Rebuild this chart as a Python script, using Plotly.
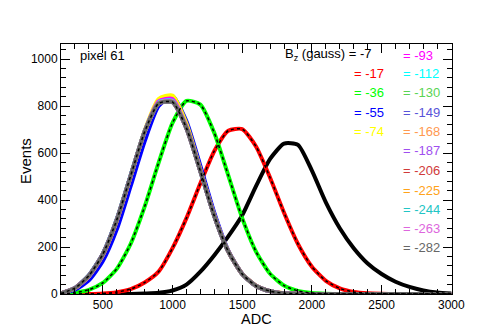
import plotly.graph_objects as go

adc = [200, 300, 400, 500, 600, 700, 800, 900, 1000, 1100, 1200, 1300, 1400, 1500,
       1600, 1700, 1800, 1900, 2000, 2100, 2200, 2300, 2400, 2500, 2600, 2700, 2800, 2900, 3000]

bz_labels = ["-7", "-17", "-36", "-55", "-74", "-93", "-112", "-130", "-149",
             "-168", "-187", "-206", "-225", "-244", "-263", "-282"]

ev_m7 = [0, 0, 0, 0, 0, 0, 2, 5, 15, 40, 95, 165, 245, 335, 460, 575, 640, 635, 525, 390, 280, 195, 130, 85, 52, 30, 15, 6, 2]
ev_m17 = [0, 0, 0, 2, 8, 21, 49, 95, 195, 323, 471, 609, 695, 702, 627, 495, 346, 213, 116, 56, 24, 9, 3, 1, 0, 0, 0, 0, 0]
ev_m36 = [0, 6, 18, 47, 107, 214, 372, 558, 728, 822, 806, 685, 505, 323, 179, 86, 36, 13, 4, 1, 0, 0, 0, 0, 0, 0, 0, 0, 0]
ev_m55 = [2, 18, 58, 140, 275, 460, 650, 800, 842, 735, 545, 345, 185, 86, 34, 11, 3, 1, 0, 0, 0, 0, 0, 0, 0, 0, 0, 0, 0]
ev_m74 = [3, 24, 75, 165, 310, 500, 695, 830, 845, 725, 530, 335, 180, 84, 33, 11, 3, 1, 0, 0, 0, 0, 0, 0, 0, 0, 0, 0, 0]
ev_m93 = [3, 25, 77, 167, 313, 502, 692, 820, 830, 712, 525, 333, 181, 85, 34, 12, 3, 1, 0, 0, 0, 0, 0, 0, 0, 0, 0, 0, 0]
ev_m112 = [3, 26, 79, 171, 318, 506, 693, 815, 822, 708, 522, 331, 180, 84, 34, 12, 3, 1, 0, 0, 0, 0, 0, 0, 0, 0, 0, 0, 0]
ev_m130 = [3, 25, 78, 170, 316, 504, 691, 812, 819, 707, 523, 332, 181, 85, 34, 12, 3, 1, 0, 0, 0, 0, 0, 0, 0, 0, 0, 0, 0]
ev_m149 = [3, 26, 80, 172, 318, 505, 690, 810, 816, 705, 522, 331, 181, 85, 34, 12, 3, 1, 0, 0, 0, 0, 0, 0, 0, 0, 0, 0, 0]
ev_m168 = [3, 25, 77, 168, 314, 502, 689, 812, 818, 707, 524, 333, 182, 86, 35, 12, 3, 1, 0, 0, 0, 0, 0, 0, 0, 0, 0, 0, 0]
ev_m187 = [3, 25, 78, 169, 315, 503, 690, 811, 817, 706, 523, 332, 181, 85, 34, 12, 3, 1, 0, 0, 0, 0, 0, 0, 0, 0, 0, 0, 0]
ev_m206 = [3, 26, 79, 170, 316, 504, 691, 810, 816, 705, 522, 331, 180, 84, 34, 12, 3, 1, 0, 0, 0, 0, 0, 0, 0, 0, 0, 0, 0]
ev_m225 = [3, 24, 77, 168, 314, 502, 690, 812, 818, 707, 524, 333, 182, 86, 35, 12, 3, 1, 0, 0, 0, 0, 0, 0, 0, 0, 0, 0, 0]
ev_m244 = [3, 25, 78, 170, 316, 504, 690, 811, 817, 706, 523, 332, 181, 85, 34, 12, 3, 1, 0, 0, 0, 0, 0, 0, 0, 0, 0, 0, 0]
ev_m263 = [3, 25, 77, 169, 315, 503, 690, 812, 818, 707, 524, 333, 181, 85, 34, 12, 3, 1, 0, 0, 0, 0, 0, 0, 0, 0, 0, 0, 0]
ev_m282 = [3, 25, 78, 169, 315, 503, 690, 811, 817, 706, 523, 332, 181, 85, 34, 12, 3, 1, 0, 0, 0, 0, 0, 0, 0, 0, 0, 0, 0]

series = [ev_m7, ev_m17, ev_m36, ev_m55, ev_m74, ev_m93, ev_m112, ev_m130, ev_m149,
          ev_m168, ev_m187, ev_m206, ev_m225, ev_m244, ev_m263, ev_m282]

colors = ["#000000", "#ff0000", "#00ff00", "#0000ff", "#ffff00", "#ff00ff", "#00ffff",
          "#59d454", "#5954d9", "#ff9950", "#9f4fef", "#d03a3a", "#ffa31a", "#22c5c5",
          "#dd66dd", "#666666"]

FONT = "Liberation Sans, Arial, Helvetica, sans-serif"

fig = go.Figure()
for lab, ys, col in zip(bz_labels, series, colors):
    fig.add_trace(go.Scatter(x=adc, y=ys, mode="lines",
                             line=dict(color=col, width=4, shape="spline", smoothing=0.6),
                             name=lab, showlegend=False, hoverinfo="skip"))

# dashed fit curves
for ys in [ev_m7, ev_m17, ev_m36, ev_m282]:
    fig.add_trace(go.Scatter(x=adc, y=ys, mode="lines",
                             line=dict(color="black", width=1.5, dash="dot", shape="spline", smoothing=0.6),
                             showlegend=False, hoverinfo="skip"))

L, R, T, B = 61, 452, 44, 294
W, H = R - L, B - T


def px(xp, yp):
    return (xp - L) / W, (B - yp) / H


annos = []


def add_text(text, xp, yp, color="black", size=13, xanchor="left", angle=0):
    x, y = px(xp, yp)
    annos.append(dict(text=text, x=x, y=y, xref="paper", yref="paper", xanchor=xanchor, yanchor="middle",
                      showarrow=False, textangle=angle, font=dict(family=FONT, size=size, color=color)))


add_text("pixel 61", 78, 55)
add_text("B<sub>z</sub> (gauss) = " + bz_labels[0], 283, 54)
col1_y = [73.5, 92.5, 112, 131.5]
for i, yy in enumerate(col1_y):
    add_text("= " + bz_labels[1 + i], 352, yy, color=colors[1 + i])
col2_y = [55, 73.5, 92.5, 112, 131.5, 150.5, 170.5, 190, 209.5, 228.5, 247]
for i, yy in enumerate(col2_y):
    add_text("= " + bz_labels[5 + i], 401, yy, color=colors[5 + i])

add_text("Events", 25, 161, size=15, xanchor="center", angle=-90)
add_text("ADC", 256, 318.5, size=14.5, xanchor="center")

axis_common = dict(showline=True, linecolor="black", linewidth=1, mirror="ticks", ticks="inside",
                   tickcolor="black", ticklen=9, tickwidth=1, showgrid=False, zeroline=False,
                   automargin=False, tickfont=dict(family=FONT, size=12, color="black"))

fig.update_layout(
    width=480, height=327,
    margin=dict(l=L, r=480 - R, t=T, b=327 - B, pad=0),
    paper_bgcolor="white", plot_bgcolor="white",
    xaxis=dict(range=[200, 3005], tickmode="linear", tick0=0, dtick=500,
               minor=dict(ticks="inside", ticklen=5, dtick=100, tick0=0, tickcolor="black", showgrid=False),
               **axis_common),
    yaxis=dict(range=[0, 1064], tickmode="linear", tick0=0, dtick=200,
               minor=dict(ticks="inside", ticklen=5, dtick=40, tick0=0, tickcolor="black", showgrid=False),
               **axis_common),
    annotations=annos,
    showlegend=False,
)

fig.write_html("out.html", config={"displayModeBar": False},
               post_script="document.body.style.margin='0';document.body.style.padding='0';document.body.style.overflow='hidden';")
